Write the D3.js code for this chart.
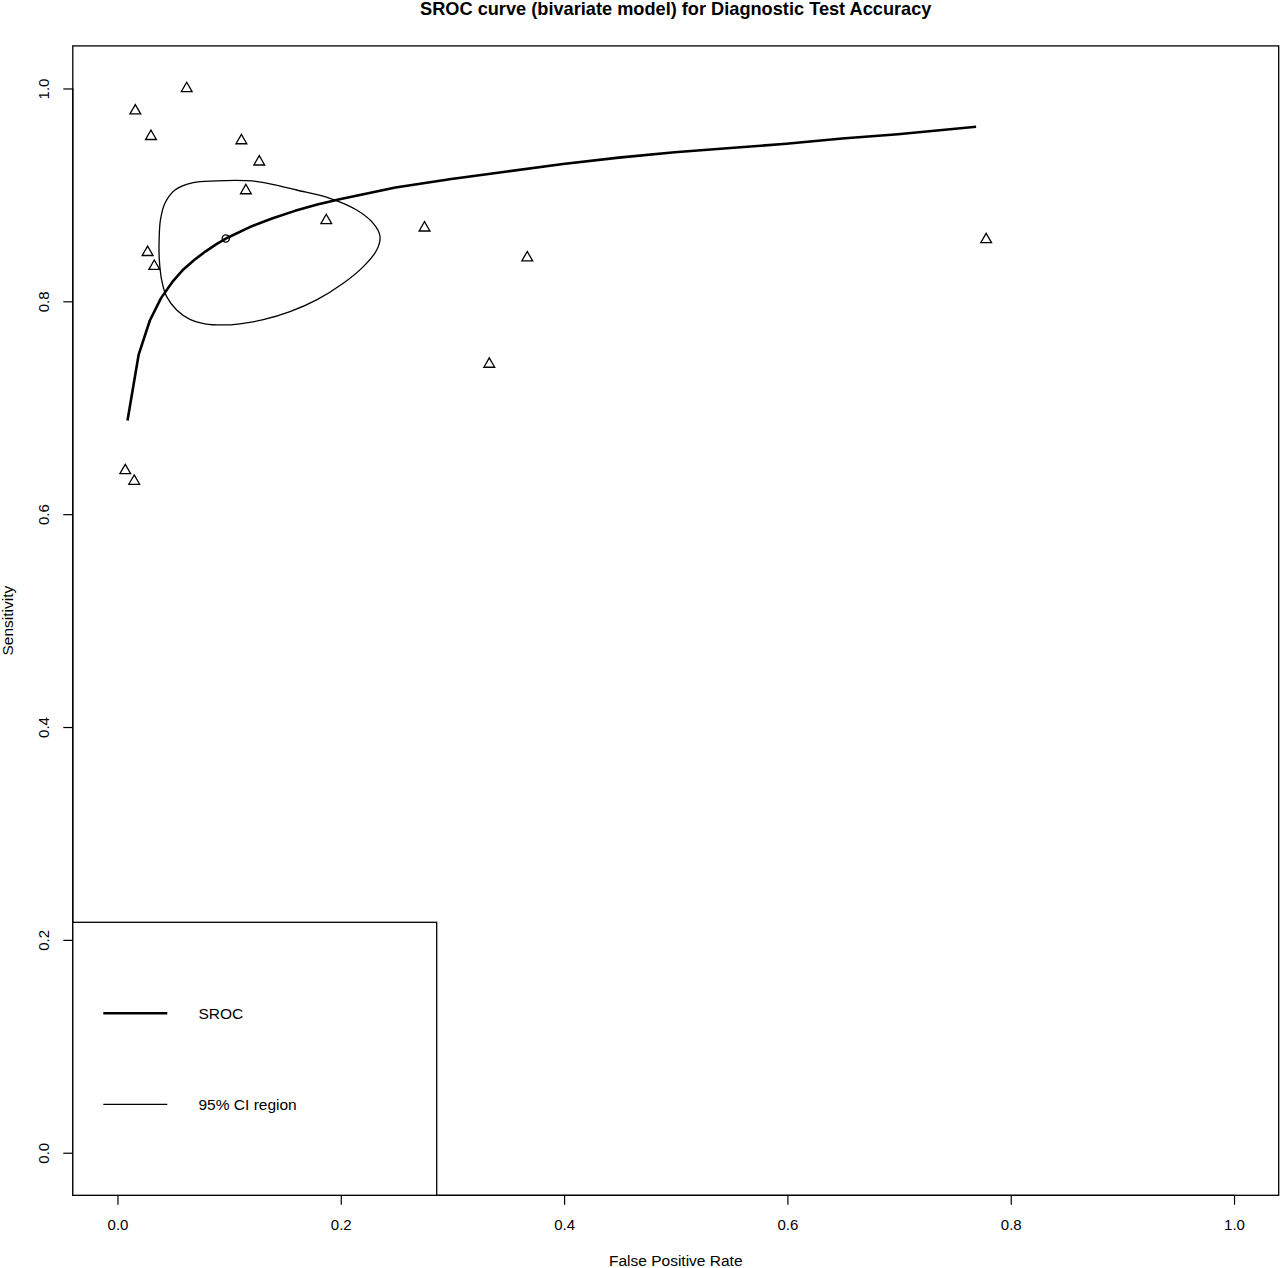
<!DOCTYPE html>
<html>
<head>
<meta charset="utf-8">
<script src="https://cdn.jsdelivr.net/npm/d3@7"></script>
<style>
  html, body { margin: 0; padding: 0; background: #fff; }
  svg { display: block; }
  text { font-family: "Liberation Sans", Arial, Helvetica, sans-serif; fill: #000; }
</style>
</head>
<body>
<svg id="chart" width="1280" height="1268"></svg>
<script>
// ---- data ----
const studyFPR  = [0.062, 0.016, 0.030, 0.111, 0.127, 0.115, 0.187, 0.275, 0.027, 0.033, 0.367, 0.778, 0.333, 0.007, 0.015];
const studySens = [1.000, 0.979, 0.955, 0.951, 0.931, 0.904, 0.876, 0.869, 0.846, 0.833, 0.841, 0.858, 0.741, 0.641, 0.631];

const summaryFPR  = [0.097];
const summarySens = [0.859];

const srocFPR  = [0.009, 0.019, 0.029, 0.039, 0.049, 0.059, 0.069, 0.079, 0.089, 0.099, 0.119, 0.139, 0.159, 0.179, 0.199, 0.249, 0.299, 0.349, 0.399, 0.449, 0.499, 0.549, 0.599, 0.649, 0.699, 0.769];
const srocSens = [0.688, 0.750, 0.782, 0.803, 0.818, 0.830, 0.839, 0.847, 0.854, 0.860, 0.870, 0.878, 0.885, 0.891, 0.896, 0.907, 0.915, 0.922, 0.929, 0.935, 0.940, 0.944, 0.948, 0.953, 0.957, 0.964];

const ciFPR  = [0.0888, 0.1052, 0.1205, 0.1366, 0.1605, 0.1903, 0.2142, 0.2291, 0.2351, 0.2322, 0.2202, 0.2022, 0.1784, 0.1545, 0.1306, 0.1097, 0.0936, 0.0784, 0.0649, 0.0530, 0.0441, 0.0396, 0.0374, 0.0374, 0.0385, 0.0425, 0.0515, 0.0679];
const ciSens = [0.9131, 0.9136, 0.9131, 0.9104, 0.9046, 0.8968, 0.8858, 0.8733, 0.8614, 0.8482, 0.8326, 0.8169, 0.8013, 0.7903, 0.7827, 0.7789, 0.7778, 0.7789, 0.7831, 0.7919, 0.8044, 0.8200, 0.8407, 0.8605, 0.8765, 0.8921, 0.9046, 0.9115];

const xTicks = [0, 0.2, 0.4, 0.6, 0.8, 1.0];
const yTicks = [0, 0.2, 0.4, 0.6, 0.8, 1.0];
const legendLabels = ["SROC", "95% CI region"];

const titleText = "SROC curve (bivariate model) for Diagnostic Test Accuracy";
const xLabel = "False Positive Rate";
const yLabel = "Sensitivity";

// ---- layout ----
const svg = d3.select("#chart");
const L = 72.8, R = 1278.7, T = 45.9, B = 1195.3;

const x = d3.scaleLinear().domain([-0.04, 1.04]).range([L, R]);
const y = d3.scaleLinear().domain([-0.04, 1.04]).range([B, T]);

const fmt = d3.format(".1f");

// x axis
const xAxis = d3.axisBottom(x).tickValues(xTicks).tickFormat(fmt).tickSize(9.5).tickSizeOuter(0);
const gx = svg.append("g").attr("transform", `translate(0,${B})`).call(xAxis);
gx.select(".domain").attr("d", `M${x(0)},0H${x(1)}`).attr("stroke", "#000").attr("stroke-width", 1.2);
gx.selectAll(".tick line").attr("stroke", "#000").attr("stroke-width", 1.2);
gx.selectAll(".tick text").attr("y", 35).attr("dy", 0).attr("font-size", 15)
  .attr("font-family", "Liberation Sans, Arial, sans-serif").attr("fill", "#000");

// y axis
const yAxis = d3.axisLeft(y).tickValues(yTicks).tickFormat(fmt).tickSize(9.5).tickSizeOuter(0);
const gy = svg.append("g").attr("transform", `translate(${L},0)`).call(yAxis);
gy.select(".domain").attr("d", `M0,${y(0)}V${y(1)}`).attr("stroke", "#000").attr("stroke-width", 1.2);
gy.selectAll(".tick line").attr("stroke", "#000").attr("stroke-width", 1.2);
gy.selectAll(".tick text")
  .attr("x", null).attr("dy", 0)
  .attr("transform", "translate(-23.5,0) rotate(-90)")
  .attr("text-anchor", "middle")
  .attr("font-size", 15)
  .attr("font-family", "Liberation Sans, Arial, sans-serif").attr("fill", "#000");

// plot box
svg.append("rect").attr("x", L).attr("y", T).attr("width", R - L).attr("height", B - T)
  .attr("fill", "none").attr("stroke", "#000").attr("stroke-width", 1.3);

// titles
svg.append("text").attr("x", (L + R) / 2).attr("y", 14.5).attr("text-anchor", "middle")
  .attr("font-size", 18.2).attr("font-weight", "bold").text(titleText);
svg.append("text").attr("x", (L + R) / 2).attr("y", 1265.5).attr("text-anchor", "middle")
  .attr("font-size", 15.5).text(xLabel);
svg.append("text").attr("transform", `translate(13,${(T + B) / 2}) rotate(-90)`)
  .attr("text-anchor", "middle").attr("font-size", 15.5).text(yLabel);

// SROC curve
const srocData = srocFPR.map((f, i) => [f, srocSens[i]]);
svg.append("path").datum(srocData)
  .attr("d", d3.line().x(d => x(d[0])).y(d => y(d[1])).curve(d3.curveLinear))
  .attr("fill", "none").attr("stroke", "#000").attr("stroke-width", 2.6)
  .attr("stroke-linejoin", "round");

// Confidence region
const ciData = ciFPR.map((f, i) => [f, ciSens[i]]);
svg.append("path").datum(ciData)
  .attr("d", d3.line().x(d => x(d[0])).y(d => y(d[1])).curve(d3.curveCatmullRomClosed.alpha(0.5)))
  .attr("fill", "none").attr("stroke", "#000").attr("stroke-width", 1.3);

// study points (triangles)
const triSide = 10.8;
const triH = triSide * Math.sqrt(3) / 2;
const triPath = `M0,${-2 * triH / 3}L${triSide / 2},${triH / 3}L${-triSide / 2},${triH / 3}Z`;
svg.append("g").selectAll("path").data(studyFPR.map((f, i) => [f, studySens[i]]))
  .join("path")
  .attr("transform", d => `translate(${x(d[0])},${y(d[1])})`)
  .attr("d", triPath)
  .attr("fill", "none").attr("stroke", "#000").attr("stroke-width", 1.3);

// summary point
svg.append("g").selectAll("circle").data(summaryFPR.map((f, i) => [f, summarySens[i]]))
  .join("circle")
  .attr("cx", d => x(d[0])).attr("cy", d => y(d[1])).attr("r", 3.6)
  .attr("fill", "none").attr("stroke", "#000").attr("stroke-width", 1.3);

// legend
const lg = svg.append("g");
lg.append("rect").attr("x", L).attr("y", 922.3).attr("width", 436.7 - L).attr("height", B - 922.3)
  .attr("fill", "#fff").attr("stroke", "#000").attr("stroke-width", 1.3);
const legendY = [1013.3, 1104.3];
const legendW = [2.6, 1.3];
legendLabels.forEach((lab, i) => {
  lg.append("line").attr("x1", 103.3).attr("x2", 167.3).attr("y1", legendY[i]).attr("y2", legendY[i])
    .attr("stroke", "#000").attr("stroke-width", legendW[i]);
  lg.append("text").attr("x", 198.5).attr("y", legendY[i] + 5.6).attr("font-size", 15.5).text(lab);
});
</script>
</body>
</html>
